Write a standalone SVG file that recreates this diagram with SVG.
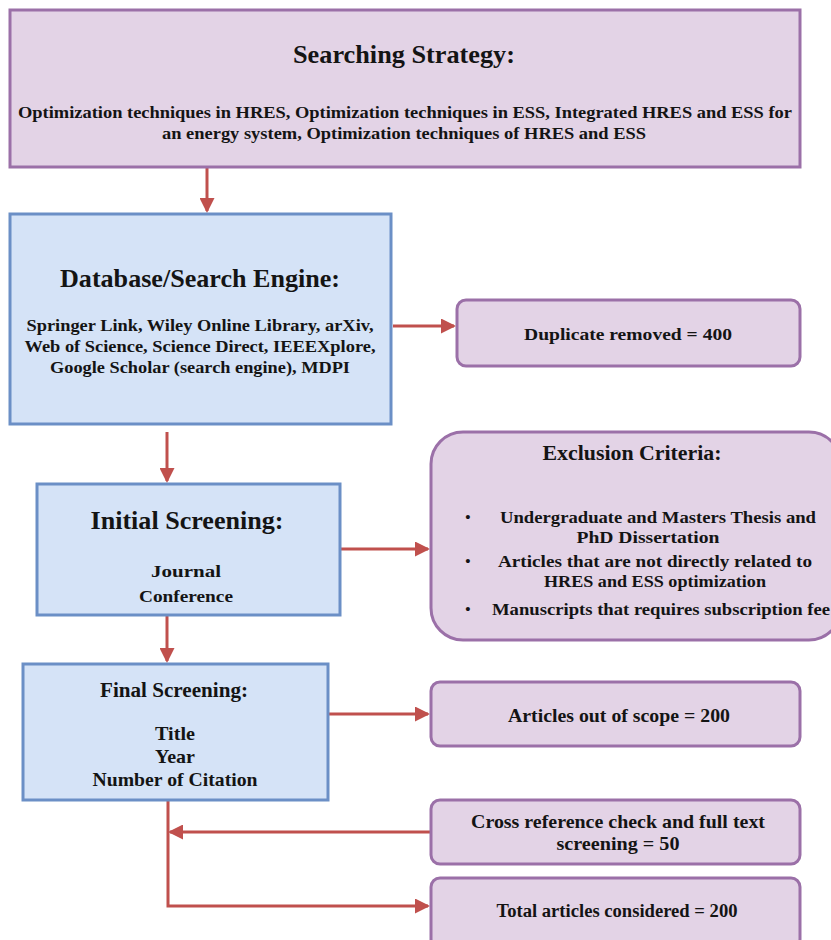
<svg xmlns="http://www.w3.org/2000/svg" width="831" height="940" viewBox="0 0 831 940">
<style>
.p{fill:#e3d3e6;stroke:#9b70a8;stroke-width:3}
.b{fill:#d5e3f7;stroke:#6b8fc6;stroke-width:3}
text{font-family:'Liberation Serif',Tinos,'Times New Roman',Times,serif;font-weight:700;fill:#141414;text-anchor:middle}
.t{font-size:15px}
.c{stroke:#c0504d;stroke-width:3;fill:none}
</style>
<defs>
<marker id="ah" markerWidth="15" markerHeight="15" refX="13" refY="7.5" orient="auto" markerUnits="userSpaceOnUse">
<path d="M0,0 L15,7.5 L0,15 Z" fill="#c0504d"/>
</marker>
</defs>
<rect width="831" height="940" fill="#fff"/>
<g id="connectors">
<line class="c" x1="207" y1="168" x2="207" y2="211" marker-end="url(#ah)"/>
<line class="c" x1="393" y1="326" x2="454" y2="326" marker-end="url(#ah)"/>
<line class="c" x1="167" y1="432" x2="167" y2="481" marker-end="url(#ah)"/>
<line class="c" x1="341" y1="549" x2="428" y2="549" marker-end="url(#ah)"/>
<line class="c" x1="167" y1="616" x2="167" y2="661" marker-end="url(#ah)"/>
<line class="c" x1="329" y1="714" x2="428" y2="714" marker-end="url(#ah)"/>
<line class="c" x1="430" y1="832" x2="170" y2="832" marker-end="url(#ah)"/>
<polyline class="c" points="168,801 168,906 428,906" marker-end="url(#ah)"/>
</g>
<g id="searching">
<rect class="p" x="10" y="10" width="790" height="157"/>
<text x="404" y="63" style="font-size:25px" textLength="222" lengthAdjust="spacingAndGlyphs">Searching Strategy:</text>
<text class="t" x="405" y="118" style="font-size:17px" textLength="774" lengthAdjust="spacingAndGlyphs">Optimization techniques in HRES, Optimization techniques in ESS, Integrated HRES and ESS for</text>
<text class="t" x="404" y="139" style="font-size:17px" textLength="484" lengthAdjust="spacingAndGlyphs">an energy system, Optimization techniques of HRES and ESS</text>
</g>
<g id="database">
<rect class="b" x="10" y="214" width="381" height="210"/>
<text x="200" y="287" style="font-size:25px" textLength="280" lengthAdjust="spacingAndGlyphs">Database/Search Engine:</text>
<text class="t" x="200" y="331" style="font-size:16px" textLength="347" lengthAdjust="spacingAndGlyphs">Springer Link, Wiley Online Library, arXiv,</text>
<text class="t" x="200" y="352" style="font-size:16px" textLength="351" lengthAdjust="spacingAndGlyphs">Web of Science, Science Direct, IEEEXplore,</text>
<text class="t" x="200" y="373" style="font-size:16px" textLength="300" lengthAdjust="spacingAndGlyphs">Google Scholar (search engine), MDPI</text>
</g>
<g id="duplicate">
<rect class="p" x="457" y="300" width="343" height="66" rx="9"/>
<text class="t" x="628" y="340" style="font-size:17px" textLength="208" lengthAdjust="spacingAndGlyphs">Duplicate removed = 400</text>
</g>
<g id="initial">
<rect class="b" x="37" y="484" width="303" height="131"/>
<text x="187" y="529" style="font-size:26px" textLength="193" lengthAdjust="spacingAndGlyphs">Initial Screening:</text>
<text class="t" x="186" y="577" style="font-size:17px" textLength="70" lengthAdjust="spacingAndGlyphs">Journal</text>
<text class="t" x="186" y="602" style="font-size:17px" textLength="94" lengthAdjust="spacingAndGlyphs">Conference</text>
</g>
<g id="exclusion">
<rect class="p" x="431" y="432" width="410" height="208" rx="32"/>
<text x="632" y="460" style="font-size:20px" textLength="179" lengthAdjust="spacingAndGlyphs">Exclusion Criteria:</text>
<text class="t" x="468" y="522">•</text>
<text class="t" x="468" y="566">•</text>
<text class="t" x="468" y="614">•</text>
<text class="t" x="658" y="523" style="font-size:17px" textLength="316" lengthAdjust="spacingAndGlyphs">Undergraduate and Masters Thesis and</text>
<text class="t" x="648" y="543" style="font-size:17px" textLength="143" lengthAdjust="spacingAndGlyphs">PhD Dissertation</text>
<text class="t" x="655" y="567" style="font-size:17px" textLength="314" lengthAdjust="spacingAndGlyphs">Articles that are not directly related to</text>
<text class="t" x="655" y="587" style="font-size:17px" textLength="222" lengthAdjust="spacingAndGlyphs">HRES and ESS optimization</text>
<text class="t" x="661" y="615" style="font-size:17px" textLength="338" lengthAdjust="spacingAndGlyphs">Manuscripts that requires subscription fee</text>
</g>
<g id="final">
<rect class="b" x="23" y="664" width="305" height="136"/>
<text x="174" y="697" style="font-size:20px" textLength="148" lengthAdjust="spacingAndGlyphs">Final Screening:</text>
<text class="t" x="175" y="740" style="font-size:19px" textLength="40" lengthAdjust="spacingAndGlyphs">Title</text>
<text class="t" x="175" y="763" style="font-size:19px" textLength="40" lengthAdjust="spacingAndGlyphs">Year</text>
<text class="t" x="175" y="786" style="font-size:19px" textLength="165" lengthAdjust="spacingAndGlyphs">Number of Citation</text>
</g>
<g id="outofscope">
<rect class="p" x="431" y="682" width="369" height="64" rx="9"/>
<text class="t" x="619" y="722" style="font-size:19px" textLength="222" lengthAdjust="spacingAndGlyphs">Articles out of scope = 200</text>
</g>
<g id="crossref">
<rect class="p" x="431" y="800" width="369" height="64" rx="9"/>
<text class="t" x="618" y="828" style="font-size:19px" textLength="294" lengthAdjust="spacingAndGlyphs">Cross reference check and full text</text>
<text class="t" x="618" y="850" style="font-size:19px" textLength="123" lengthAdjust="spacingAndGlyphs">screening = 50</text>
</g>
<g id="total">
<rect class="p" x="431" y="878" width="369" height="70" rx="9"/>
<text class="t" x="617" y="917" style="font-size:18px" textLength="241" lengthAdjust="spacingAndGlyphs">Total articles considered = 200</text>
</g>
</svg>
